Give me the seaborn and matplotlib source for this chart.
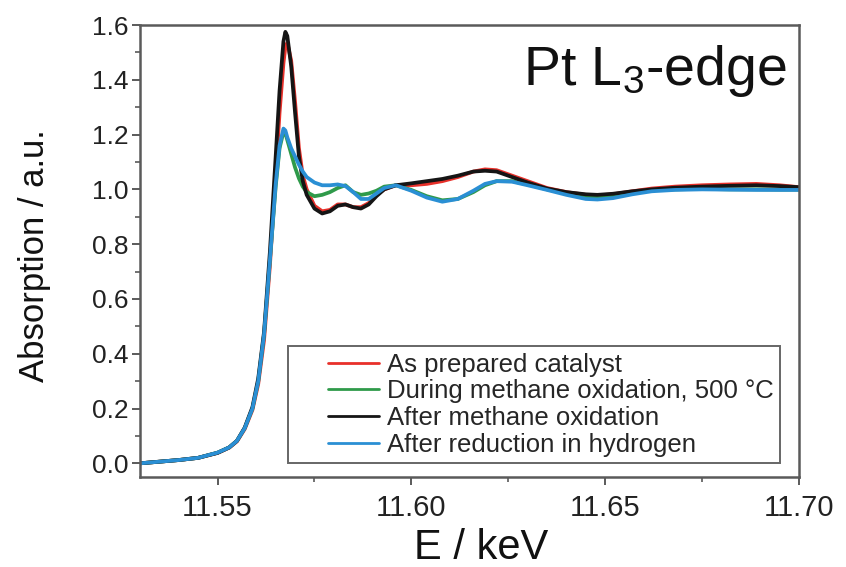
import matplotlib
matplotlib.use("Agg")
import matplotlib.pyplot as plt
from matplotlib.lines import Line2D
from matplotlib.legend_handler import HandlerLine2D
from matplotlib.ticker import MultipleLocator, FormatStrFormatter
import seaborn as sns
import pandas as pd

# ---------------- data ----------------
energy = [11.530, 11.535, 11.540, 11.545, 11.550, 11.553, 11.555, 11.557, 11.559, 11.5605,
          11.562, 11.5635, 11.565, 11.566, 11.567, 11.5675, 11.568, 11.569, 11.570, 11.571,
          11.572, 11.573, 11.575, 11.577, 11.579, 11.581, 11.583, 11.585, 11.587, 11.589,
          11.591, 11.593, 11.596, 11.600, 11.604, 11.608, 11.612, 11.616, 11.619, 11.622,
          11.626, 11.630, 11.635, 11.640, 11.645, 11.648, 11.652, 11.657, 11.662, 11.668,
          11.675, 11.682, 11.689, 11.695, 11.700]

as_prepared = [0.000, 0.006, 0.012, 0.020, 0.038, 0.057, 0.080, 0.125, 0.195, 0.29,
               0.45, 0.72, 1.05, 1.28, 1.46, 1.52, 1.535, 1.47, 1.32, 1.15,
               1.05, 1.00, 0.94, 0.92, 0.925, 0.945, 0.945, 0.935, 0.935, 0.95,
               0.98, 1.00, 1.015, 1.015, 1.02, 1.03, 1.045, 1.065, 1.073, 1.07,
               1.05, 1.03, 1.005, 0.99, 0.98, 0.978, 0.982, 0.993, 1.003, 1.01,
               1.015, 1.018, 1.02, 1.015, 1.008]

during_oxidation = [0.000, 0.006, 0.012, 0.020, 0.039, 0.058, 0.082, 0.128, 0.20, 0.30,
                    0.47, 0.74, 1.01, 1.15, 1.21, 1.205, 1.18, 1.13, 1.08, 1.04,
                    1.01, 0.99, 0.975, 0.98, 0.99, 1.005, 1.015, 0.99, 0.98, 0.985,
                    0.995, 1.01, 1.015, 0.998, 0.975, 0.96, 0.965, 0.99, 1.015, 1.03,
                    1.03, 1.018, 1.00, 0.985, 0.972, 0.97, 0.975, 0.988, 0.997, 1.00,
                    1.002, 1.00, 1.00, 0.999, 0.999]

after_oxidation = [0.000, 0.006, 0.012, 0.020, 0.038, 0.058, 0.082, 0.13, 0.205, 0.31,
                   0.48, 0.77, 1.12, 1.36, 1.54, 1.575, 1.56, 1.45, 1.28, 1.12,
                   1.03, 0.98, 0.93, 0.912, 0.92, 0.94, 0.945, 0.935, 0.93, 0.945,
                   0.975, 1.00, 1.015, 1.022, 1.03, 1.038, 1.05, 1.065, 1.068, 1.065,
                   1.045, 1.025, 1.003, 0.99, 0.982, 0.98, 0.984, 0.993, 1.00, 1.006,
                   1.01, 1.013, 1.015, 1.012, 1.008]

after_reduction = [0.000, 0.006, 0.012, 0.020, 0.039, 0.058, 0.082, 0.128, 0.20, 0.30,
                   0.47, 0.74, 1.02, 1.16, 1.222, 1.215, 1.19, 1.15, 1.12, 1.09,
                   1.065, 1.045, 1.025, 1.015, 1.015, 1.018, 1.012, 0.99, 0.965, 0.965,
                   0.985, 1.005, 1.015, 0.995, 0.97, 0.955, 0.965, 0.995, 1.02, 1.03,
                   1.028, 1.015, 0.998, 0.98, 0.965, 0.963, 0.968, 0.982, 0.993, 0.998,
                   1.00, 0.999, 0.998, 0.998, 0.998]

series_labels = ["As prepared catalyst",
                 "During methane oxidation, 500 \u00b0C",
                 "After methane oxidation",
                 "After reduction in hydrogen"]
series_colors = ["#e8302a", "#2f9a4a", "#151515", "#2a8fd4"]

x_ticks = [11.55, 11.60, 11.65, 11.70]
y_ticks = [0.0, 0.2, 0.4, 0.6, 0.8, 1.0, 1.2, 1.4, 1.6]

# ---------------- build long table ----------------
frames = []
for lab, vals in zip(series_labels,
                     [as_prepared, during_oxidation, after_oxidation, after_reduction]):
    frames.append(pd.DataFrame({"E": energy, "A": vals, "series": lab}))
df = pd.concat(frames, ignore_index=True)

# ---------------- style ----------------
sns.set_theme(style="ticks")
plt.rcParams["font.family"] = ["Liberation Sans", "DejaVu Sans"]
plt.rcParams["mathtext.fontset"] = "custom"
plt.rcParams["mathtext.rm"] = "Liberation Sans"
plt.rcParams["mathtext.default"] = "regular"

spine_col = "#5a5a5a"

fig = plt.figure(figsize=(8.46, 5.67), dpi=100)
ax = fig.add_axes([0.1655, 0.1587, 0.9444 - 0.1655, 0.9559 - 0.1587])

sns.lineplot(data=df, x="E", y="A", hue="series", hue_order=series_labels,
             palette=dict(zip(series_labels, series_colors)),
             sort=False, estimator=None, linewidth=2.7, legend=False, ax=ax)

ax.set_xlim(11.53, 11.70)
ax.set_ylim(-0.05, 1.6)
ax.set_xticks(x_ticks)
ax.set_yticks(y_ticks)
ax.xaxis.set_major_formatter(FormatStrFormatter("%.2f"))
ax.yaxis.set_major_formatter(FormatStrFormatter("%.1f"))
ax.xaxis.set_minor_locator(MultipleLocator(0.025))
ax.yaxis.set_minor_locator(MultipleLocator(0.1))

for s in ax.spines.values():
    s.set_color(spine_col)
    s.set_linewidth(1.8)
    s.set_visible(True)

ax.tick_params(axis="both", which="major", direction="out", length=6, width=1.4,
               color=spine_col, top=False, right=False)
ax.tick_params(axis="both", which="minor", direction="out", length=3.5, width=1.2,
               color=spine_col, top=False, right=False)
ax.tick_params(axis="x", which="major", labelsize=21, labelcolor="#222222", pad=6)
ax.tick_params(axis="y", which="major", labelsize=19, labelcolor="#222222", pad=2)

ax.set_xlabel("E / keV", fontsize=30, color="#111111")
ax.xaxis.set_label_coords(0.518, -0.112)
ax.xaxis.label.set_va("top")
ax.set_ylabel("Absorption / a.u.", fontsize=25, color="#111111")
ax.yaxis.set_label_coords(-0.135, 0.49)

ax.text(0.982, 0.867, "Pt L$_3$-edge", transform=ax.transAxes,
        ha="right", va="baseline", fontsize=40, color="#111111")

handles = [Line2D([], [], color=c, linewidth=2.0) for c in series_colors]
leg = ax.legend(handles, series_labels, loc="lower left",
                bbox_to_anchor=(0.2246, 0.031), borderaxespad=0,
                fontsize=18.5, labelspacing=0.1, borderpad=0.25,
                handlelength=3.3, handletextpad=0.3, frameon=True,
                fancybox=False, framealpha=1, edgecolor="#666666",
                handler_map={Line2D: HandlerLine2D(xpad=1.3)})
leg.get_frame().set_linewidth(1.4)

fig.savefig("out.png", dpi=100)
